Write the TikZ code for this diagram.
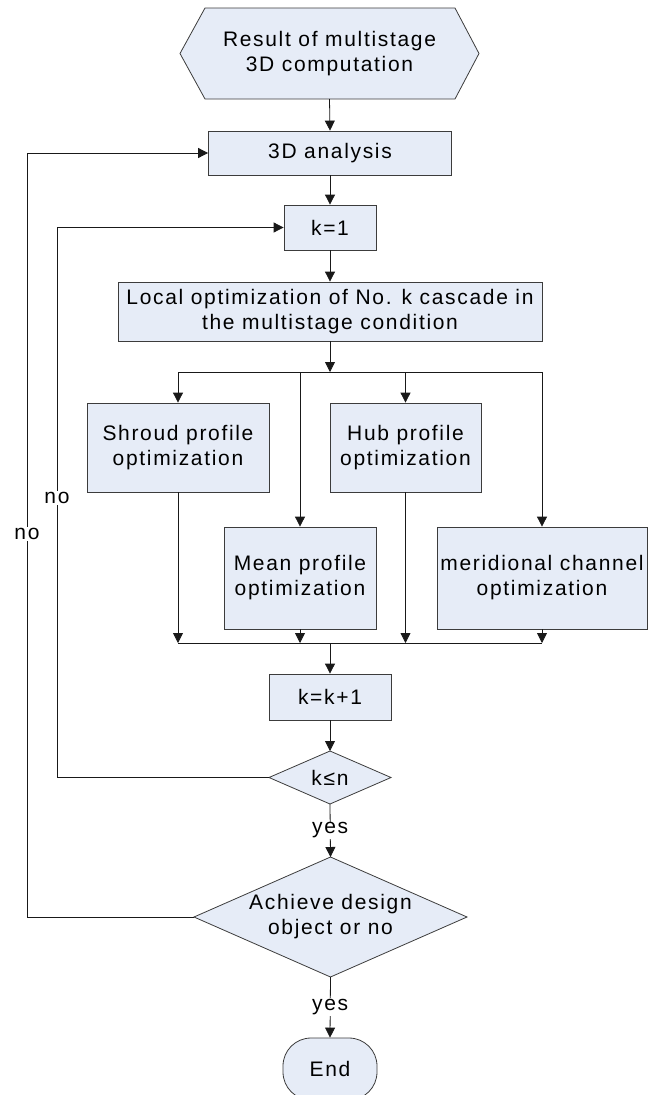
\documentclass[tikz,border=0pt]{standalone}
\usepackage{fontspec}
\setmainfont{Liberation Sans}[LetterSpace=8]
\usetikzlibrary{arrows.meta}
\definecolor{boxfill}{RGB}{230,236,247}
\definecolor{boxline}{RGB}{60,60,60}
\begin{document}
\begin{tikzpicture}[x=1pt,y=-1pt,
  every node/.style={font=\fontsize{21}{25}\selectfont},
  shapeline/.style={draw=boxline, fill=boxfill, line width=0.8pt},
  box/.style={shapeline, inner sep=0pt, align=center},
  holder/.style={inner sep=0pt, outer sep=0pt, align=center},
  conn/.style={draw=black!90, line width=0.8pt},
  arr/.style={conn, -{Triangle[length=10pt,width=10pt]}},
  lbl/.style={fill=white, inner sep=1pt}]
\useasboundingbox (0,0) rectangle (649,1095);
% start hexagon
\draw[shapeline] (180,53.5) -- (205,8) -- (455,8) -- (479,53.5) -- (455,99) -- (205,99) -- cycle;
\node[holder, minimum width=299pt, minimum height=91pt] (start) at (329.5,53.5) {Result of multistage\\3D computation};
% boxes
\node[box, minimum width=243pt, minimum height=44pt] (ana) at (330,153) {3D analysis};
\node[box, minimum width=92pt, minimum height=45pt] (k1) at (330,227.5) {k=1};
\node[box, minimum width=424pt, minimum height=59pt] (local) at (330,311.5) {Local optimization of No. k cascade in\\the multistage condition};
\node[box, minimum width=182pt, minimum height=89pt] (shroud) at (178,447.5) {Shroud profile\\optimization};
\node[box, minimum width=151pt, minimum height=89pt] (hub) at (405.5,447.5) {Hub profile\\optimization};
\node[box, minimum width=152pt, minimum height=102pt] (mean) at (300,578) {Mean profile\\optimization};
\node[box, minimum width=210pt, minimum height=102pt] (merid) at (542,578) {meridional channel\\optimization};
\node[box, minimum width=122pt, minimum height=46pt] (kk1) at (330,697) {k=k+1};
% diamonds
\draw[shapeline] (269,777.5) -- (330,751) -- (391,777.5) -- (330,804) -- cycle;
\node[holder, minimum width=122pt, minimum height=53pt] (d1) at (330,777.5) {k≤n};
\draw[shapeline] (194,917) -- (330.5,857) -- (467,917) -- (330.5,977) -- cycle;
\node[holder, minimum width=273pt, minimum height=120pt] (d2) at (330.5,917) {Achieve design\\object or no};
% terminal
\node[box, rounded corners=28pt, minimum width=94pt, minimum height=62pt] (end) at (330,1069) {End};
% helper coordinates
\coordinate (split) at (330,372);
\coordinate (bl) at (178,372);
\coordinate (br) at (542,372);
\coordinate (join) at (330,643);
\coordinate (jl) at (178,643);
\coordinate (jr) at (542,643);
\coordinate (innerx) at (57,0);
\coordinate (outerx) at (27,0);
% connectors
\draw[arr] (start.south) -- (ana.north);
\draw[arr] (ana.south) -- (k1.north);
\draw[arr] (k1.south) -- (local.north);
\draw[arr] (local.south) -- (split);
\draw[conn] (bl) -- (br);
\draw[arr] (bl) -- (shroud.north);
\draw[arr] (br) -- (merid.north);
\draw[arr] (mean.north |- split) -- (mean.north);
\draw[arr] (hub.north |- split) -- (hub.north);
\draw[arr] (shroud.south) -- (shroud.south |- join);
\draw[arr] (hub.south) -- (hub.south |- join);
\draw[arr] (mean.south) -- (mean.south |- join);
\draw[arr] (merid.south) -- (merid.south |- join);
\draw[conn] (jl) -- (jr);
\draw[arr] (join) -- (kk1.north);
\draw[arr] (kk1.south) -- (d1.north);
\draw[arr] (d1.south) -- node[lbl]{yes} (d2.north);
\draw[arr] (d2.south) -- node[lbl]{yes} (end.north);
\draw[arr] (d1.west) -- (d1.west -| innerx) -- node[lbl, pos=0.508]{no} (k1.west -| innerx) -- (k1.west);
\draw[arr] (d2.west) -- (d2.west -| outerx) -- node[lbl, pos=0.501]{no} (ana.west -| outerx) -- (ana.west);
\end{tikzpicture}
\end{document}
